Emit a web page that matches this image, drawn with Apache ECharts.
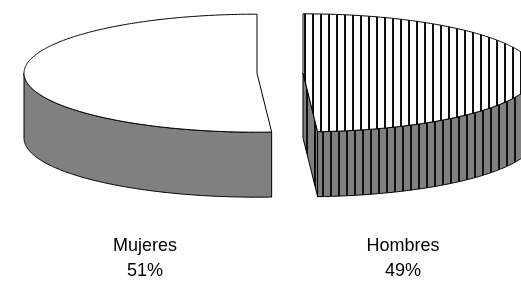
<!DOCTYPE html>
<html>
<head>
<meta charset="utf-8">
<script src="https://cdn.jsdelivr.net/npm/echarts@6/dist/echarts.min.js"></script>
<style>
html, body { margin: 0; padding: 0; background: #fff; }
#chart { width: 521px; height: 285px; }
</style>
</head>
<body>
<div id="chart"></div>
<script>
// data, clockwise from 12 o'clock
const categories = ['Hombres', 'Mujeres'];
const shares = [49, 51];

// layout of the tilted pie (pixels)
const cx = 280, cy = 73, rx = 233, ry = 59, depth = 65, explode = 23;
const labelX = [403, 145];
const labelY = 259;

function stripes(bg, line, offset) {
    const c = document.createElement('canvas');
    c.width = 8;
    c.height = 8;
    const ctx = c.getContext('2d');
    ctx.fillStyle = bg;
    ctx.fillRect(0, 0, 8, 8);
    ctx.fillStyle = line;
    ctx.fillRect(0, 0, 2, 8);
    return { image: c, repeat: 'repeat', x: offset || 0 };
}

const topFill = ['', '#ffffff'];
const sideFill = ['', '#808080'];
topFill[0] = stripes('#ffffff', '#111111', 0);
sideFill[0] = stripes('#808080', '#111111', 2);

const total = shares.reduce((a, b) => a + b, 0);

function renderSlice(params, api) {
    const i = params.dataIndex;
    let before = 0;
    for (let j = 0; j < i; j++) before += shares[j];
    const a0 = before / total * Math.PI * 2;
    const a1 = (before + api.value(0)) / total * Math.PI * 2;
    const mid = (a0 + a1) / 2;
    const c = [cx + explode * Math.sin(mid), cy - explode * Math.cos(mid) * ry / rx];
    const pt = (a, dy) => [c[0] + rx * Math.sin(a), c[1] - ry * Math.cos(a) + dy];
    const arc = (from, to, dy) => {
        const n = Math.max(2, Math.ceil(Math.abs(to - from) / 0.01));
        const out = [];
        for (let k = 0; k <= n; k++) out.push(pt(from + (to - from) * k / n, dy));
        return out;
    };
    const line = { stroke: '#000', lineWidth: 1, lineJoin: 'round' };
    const children = [];

    // radial cut faces that look toward the viewer
    const face = (a) => {
        const p = pt(a, 0);
        children.push({
            type: 'polygon',
            shape: { points: [c, p, [p[0], p[1] + depth], [c[0], c[1] + depth]] },
            style: Object.assign({ fill: sideFill[i] }, line)
        });
    };
    if (Math.sin(a1) > 1e-6) face(a1);
    if (-Math.sin(a0) > 1e-6) face(a0);

    // front part of the rim
    const s0 = Math.max(a0, Math.PI / 2), s1 = Math.min(a1, Math.PI * 1.5);
    if (s1 > s0) {
        children.push({
            type: 'polygon',
            shape: { points: arc(s0, s1, 0).concat(arc(s1, s0, depth)) },
            style: Object.assign({ fill: sideFill[i] }, line)
        });
    }

    // top surface
    children.push({
        type: 'polygon',
        shape: { points: [c].concat(arc(a0, a1, 0)) },
        style: Object.assign({ fill: topFill[i] }, line)
    });

    children.push({
        type: 'text',
        style: {
            text: categories[i] + '\n' + api.value(0) + '%',
            x: labelX[i],
            y: labelY,
            align: 'center',
            verticalAlign: 'middle',
            lineHeight: 25,
            fill: '#000',
            font: '18px "Liberation Sans", Arial, sans-serif'
        }
    });
    return { type: 'group', children: children };
}

const chart = echarts.init(document.getElementById('chart'));
chart.setOption({
    animation: false,
    series: [{
        type: 'custom',
        coordinateSystem: 'none',
        renderItem: renderSlice,
        data: shares.map((v, i) => ({ name: categories[i], value: v }))
    }]
});
</script>
</body>
</html>
